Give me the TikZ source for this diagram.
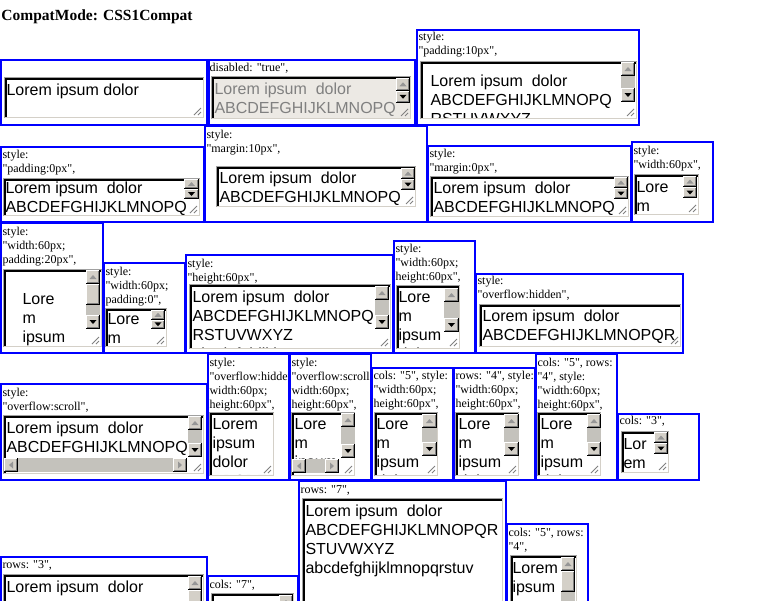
\documentclass[tikz,border=0pt]{standalone}
\usepackage{fontspec}
\setmainfont{Liberation Serif}[Ligatures=TeXOff]
\newfontfamily\tafont{Liberation Sans}

\definecolor{cellblue}{RGB}{0,0,255}
\definecolor{btnface}{RGB}{212,208,200}
\definecolor{btnshade}{RGB}{128,128,128}
\definecolor{sbtrack}{RGB}{196,194,188}
\definecolor{arrowoff}{RGB}{150,150,150}
\definecolor{tagrey}{RGB}{160,160,160}
\definecolor{talight}{RGB}{212,208,200}
\definecolor{tadisabled}{RGB}{236,233,228}
\definecolor{txtdisabled}{RGB}{128,128,128}

% blue box round one test case
\newcommand{\cellbox}[4]{\draw[cell] (#1,#2) rectangle (#3,#4);}
% label over a textarea: name, x, first baseline, lines
\newcommand{\lbltext}[4]{\node[lbl] (#1) at (#2,#3-9.8) {\strut #4};}
% textarea: name, x1, y1, x2, y2, fill, text x, first baseline, lines
\newcommand{\tarea}[9]{%
  \fill[#6] (#2,#3) rectangle (#4,#5);
  \begin{scope}
    \clip (#2+2.5,#3+2.5) rectangle (#4-1,#5-1);
    \node[tatext] (#1) at (#7,#8-13.3) {\strut #9};
  \end{scope}
  \draw[tagrey] (#2+0.5,#5) -- (#2+0.5,#3+0.5) -- (#4,#3+0.5);
  \draw[black,line width=1.5pt] (#2+1.75,#5-1) -- (#2+1.75,#3+1.75) -- (#4-1,#3+1.75);
  \draw[talight] (#2+1,#5-0.5) -- (#4-0.5,#5-0.5) -- (#4-0.5,#3+1);
  \draw[grip] (#4-3,#5-10) -- (#4-10,#5-3) (#4-3,#5-6) -- (#4-6,#5-3);
}
% raised scrollbar button
\newcommand{\sbbtn}[4]{%
  \fill[btnface] (#1,#2) rectangle (#3,#4);
  \draw[white] (#1+0.5,#4-1) -- (#1+0.5,#2+0.5) -- (#3-1,#2+0.5);
  \draw[btnshade] (#1+1,#4-1.5) -- (#3-1.5,#4-1.5) -- (#3-1.5,#2+1);
  \draw[black] (#1,#4-0.5) -- (#3-0.5,#4-0.5) -- (#3-0.5,#2);
}
% vertical scrollbar: x1, y1, x2, y2, thumb length
\newcommand{\vsb}[5]{%
  \fill[sbtrack] (#1,#2) rectangle (#3,#4);
  \pgfmathsetmacro\sbh{min(14,(#4-#2)/2)}
  \pgfmathsetmacro\sbc{(#1+#3)/2}
  \sbbtn{#1}{#2}{#3}{#2+\sbh}
  \sbbtn{#1}{#4-\sbh}{#3}{#4}
  \fill[arrowoff] (\sbc-3.5,#2+\sbh/2+2) -- (\sbc+3.5,#2+\sbh/2+2) -- (\sbc,#2+\sbh/2-2) -- cycle;
  \fill[black] (\sbc-3.5,#4-\sbh/2-2) -- (\sbc+3.5,#4-\sbh/2-2) -- (\sbc,#4-\sbh/2+2) -- cycle;
  \ifnum#5>0 \sbbtn{#1}{#2+\sbh}{#3}{#2+\sbh+#5}\fi
}
% horizontal scrollbar: x1, y1, x2, y2
\newcommand{\hsb}[4]{%
  \fill[sbtrack] (#1,#2) rectangle (#3,#4);
  \pgfmathsetmacro\sbh{min(14,(#3-#1)/2)}
  \pgfmathsetmacro\sbc{(#2+#4)/2}
  \sbbtn{#1}{#2}{#1+\sbh}{#4}
  \sbbtn{#3-\sbh}{#2}{#3}{#4}
  \fill[arrowoff] (#1+\sbh/2+2,\sbc-3.5) -- (#1+\sbh/2+2,\sbc+3.5) -- (#1+\sbh/2-2,\sbc) -- cycle;
  \fill[arrowoff] (#3-\sbh/2-2,\sbc-3.5) -- (#3-\sbh/2-2,\sbc+3.5) -- (#3-\sbh/2+2,\sbc) -- cycle;
}

\begin{document}
\begin{tikzpicture}[x=1pt,y=-1pt,line width=1pt,
  cell/.style={draw=cellblue,line width=2pt},
  lbl/.style={anchor=north west,inner sep=0pt,align=left,font=\fontsize{12}{14}\selectfont},
  tatext/.style={anchor=north west,inner sep=0pt,align=left,font=\fontsize{16}{19}\selectfont\tafont},
  grip/.style={draw=btnshade,line width=0.8pt}]
\useasboundingbox (0,0) rectangle (781,600);
\fill[white] (0,0) rectangle (781,600);
\node[anchor=base west,inner sep=0pt,font=\fontsize{15.5}{18}\selectfont\bfseries] (title) at (1,20) {CompatMode: CSS1Compat};

% row 1
\tarea{txtA1}{4}{77}{204}{118}{white}{6}{95}{Lorem ipsum dolor}
\cellbox{1}{60}{207}{125}
\begin{scope}[tatext/.append style={text=txtdisabled}]
  \tarea{txtA2}{211}{76}{411}{119}{tadisabled}{214}{94}{Lorem ipsum\ \ dolor\\ABCDEFGHIJKLMNOPQ}
\end{scope}
\vsb{396}{78}{410}{103}{0}
\lbltext{lblA2}{209}{71}{disabled: "true",}
\cellbox{209}{60}{415}{125}
\tarea{txtA3}{420}{61}{637}{119}{white}{430}{86}{Lorem ipsum\ \ dolor\\ABCDEFGHIJKLMNOPQ\\RSTUVWXYZ}
\vsb{621}{62}{635}{102}{0}
\lbltext{lblA3}{418}{40}{style:\\"padding:10px",}
\cellbox{417}{30}{639}{125}

% row 2
\tarea{txtB1}{3}{178}{200}{216}{white}{5}{193}{Lorem ipsum\ \ dolor\\ABCDEFGHIJKLMNOPQ}
\vsb{184}{179}{199}{199}{0}
\lbltext{lblB1}{2}{158}{style:\\"padding:0px",}
\cellbox{1}{147}{204}{222}
\tarea{txtB2}{216}{166}{416}{207}{white}{219}{183}{Lorem ipsum\ \ dolor\\ABCDEFGHIJKLMNOPQ}
\vsb{401}{168}{415}{190}{0}
\lbltext{lblB2}{206}{138}{style:\\"margin:10px",}
\cellbox{205}{126}{427}{222}
\tarea{txtB3}{430}{176}{629}{217}{white}{433}{193}{Lorem ipsum\ \ dolor\\ABCDEFGHIJKLMNOPQ}
\vsb{614}{177}{628}{199}{0}
\lbltext{lblB3}{429}{157}{style:\\"margin:0px",}
\cellbox{428}{146}{631}{222}
\tarea{txtB4}{634}{174}{699}{215}{white}{636}{192}{Lore\\m}
\vsb{683}{176}{697}{198}{0}
\lbltext{lblB4}{633}{154}{style:\\"width:60px",}
\cellbox{632}{142}{713}{222}

% row 3
\tarea{txtC1}{3}{269}{102}{347}{white}{22}{304}{Lore\\m\\ipsum}
\vsb{86}{270}{100}{329}{21}
\lbltext{lblC1}{2}{235}{style:\\"width:60px;\\padding:20px",}
\cellbox{1}{223}{103}{353}
\tarea{txtC2}{105}{308}{167}{347}{white}{107}{324}{Lore\\m}
\vsb{151}{310}{165}{329}{0}
\lbltext{lblC2}{105}{275}{style:\\"width:60px;\\padding:0",}
\cellbox{104}{263}{185}{353}
\tarea{txtC3}{189}{284}{391}{349}{white}{192}{302}{Lorem ipsum\ \ dolor\\ABCDEFGHIJKLMNOPQ\\RSTUVWXYZ\\abcdefghijklmnopqrstuv}
\vsb{375}{286}{389}{329}{0}
\lbltext{lblC3}{187}{267}{style:\\"height:60px",}
\cellbox{186}{255}{393}{353}
\tarea{txtC4}{396}{285}{460}{349}{white}{398}{302}{Lore\\m\\ipsum\\dolor}
\vsb{444}{288}{459}{332}{0}
\lbltext{lblC4}{395}{252}{style:\\"width:60px;\\height:60px",}
\cellbox{394}{241}{475}{353}
\tarea{txtC5}{479}{304}{681}{347}{white}{482}{321}{Lorem ipsum\ \ dolor\\ABCDEFGHIJKLMNOPQR}
\lbltext{lblC5}{477}{284}{style:\\"overflow:hidden",}
\cellbox{476}{274}{683}{353}

% row 4
\tarea{txtD1}{3}{415}{204}{474}{white}{6}{433}{Lorem ipsum\ \ dolor\\ABCDEFGHIJKLMNOPQ}
\vsb{188}{416}{202}{457}{0}
\hsb{4}{458}{187}{472}
\lbltext{lblD1}{2}{396}{style:\\"overflow:scroll",}
\cellbox{1}{384}{207}{480}
\tarea{txtD2}{209}{412}{274}{476}{white}{212}{429}{Lorem\\ipsum\\dolor\\ABCDEF}
\begin{scope}
  \clip (208,354) rectangle (289,480);
  \lbltext{lblD2}{209}{366}{style:\\\makebox[78pt][l]{"overflow:hidden;}\\width:60px;\\height:60px",}
\end{scope}
\cellbox{208}{354}{289}{480}
\tarea{txtD3}{291}{412}{355}{476}{white}{294}{429}{Lore\\m\\ipsum}
\vsb{341}{413}{355}{458}{0}
\hsb{292}{459}{339}{473}
\lbltext{lblD3}{291}{366}{style:\\\makebox[79pt][l]{"overflow:scroll;}\\width:60px;\\height:60px",}
\cellbox{290}{354}{371}{480}
\tarea{txtD4}{374}{412}{438}{476}{white}{376}{429}{Lore\\m\\ipsum\\dolor}
\vsb{422}{414}{437}{456}{0}
\lbltext{lblD4}{373}{379}{cols: "5", style:\\"width:60px;\\height:60px",}
\cellbox{372}{368}{453}{480}
\tarea{txtD5}{455}{412}{519}{476}{white}{458}{429}{Lore\\m\\ipsum\\dolor}
\vsb{504}{414}{519}{456}{0}
\lbltext{lblD5}{455}{379}{rows: "4", style:\\"width:60px;\\height:60px",}
\cellbox{454}{368}{535}{480}
\tarea{txtD6}{537}{412}{601}{476}{white}{540}{429}{Lore\\m\\ipsum\\dolor}
\vsb{587}{414}{601}{456}{0}
\lbltext{lblD6}{537}{366}{cols: "5", rows:\\"4", style:\\"width:60px;\\height:60px",}
\cellbox{536}{354}{617}{480}
\tarea{txtD7}{621}{431}{669}{473}{white}{623}{449}{Lor\\em}
\vsb{654}{432}{668}{454}{0}
\lbltext{lblD7}{619}{424}{cols: "3",}
\cellbox{618}{414}{699}{480}

% row 5
\tarea{txtE1}{3}{574}{204}{640}{white}{6}{592}{Lorem ipsum\ \ dolor}
\vsb{188}{576}{202}{640}{20}
\lbltext{lblE1}{2}{568}{rows: "3",}
\cellbox{1}{557}{207}{640}
\tarea{txtE2}{211}{593}{294}{640}{white}{213}{611}{}
\vsb{279}{595}{293}{640}{0}
\lbltext{lblE2}{209}{588}{cols: "7",}
\cellbox{208}{576}{298}{640}
\tarea{txtE3}{302}{498}{503}{640}{white}{305}{516}{Lorem ipsum\ \ dolor\\ABCDEFGHIJKLMNOPQR\\STUVWXYZ\\abcdefghijklmnopqrstuv}
\lbltext{lblE3}{300}{493}{rows: "7",}
\cellbox{299}{481}{506}{640}
\tarea{txtE4}{510}{555}{577}{640}{white}{512}{573}{Lorem\\ipsum}
\vsb{561}{557}{575}{640}{21}
\lbltext{lblE4}{508}{536}{cols: "5", rows:\\"4",}
\cellbox{507}{524}{588}{640}
\end{tikzpicture}
\end{document}
